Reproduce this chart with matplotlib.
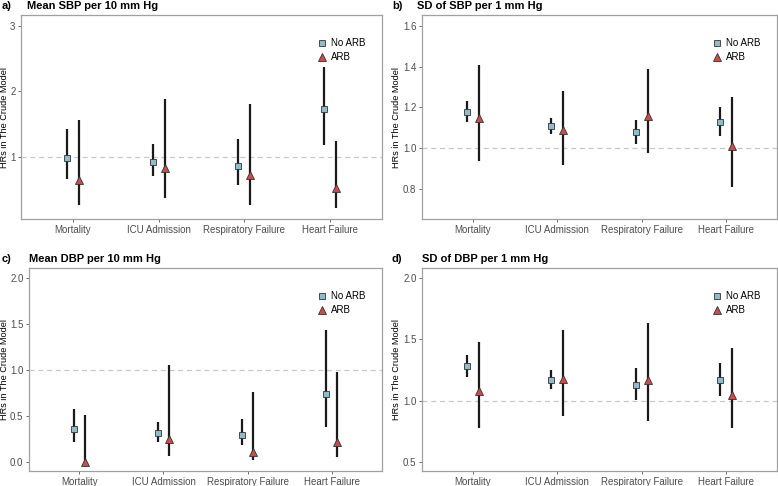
import numpy as np
import matplotlib.pyplot as plt

plt.rcParams['font.family'] = ['Liberation Sans', 'DejaVu Sans']

categories = ['Mortality', 'ICU Admission', 'Respiratory Failure', 'Heart Failure']

# a) Mean SBP per 10 mm Hg
a_no_hr = [0.98, 0.92, 0.86, 1.73]
a_no_lo = [0.67, 0.71, 0.58, 1.19]
a_no_hi = [1.43, 1.20, 1.27, 2.37]
a_arb_hr = [0.66, 0.84, 0.73, 0.53]
a_arb_lo = [0.27, 0.38, 0.28, 0.23]
a_arb_hi = [1.56, 1.89, 1.81, 1.24]

# b) SD of SBP per 1 mm Hg
b_no_hr = [1.18, 1.11, 1.08, 1.13]
b_no_lo = [1.13, 1.07, 1.02, 1.06]
b_no_hi = [1.23, 1.15, 1.14, 1.20]
b_arb_hr = [1.15, 1.09, 1.16, 1.01]
b_arb_lo = [0.94, 0.92, 0.98, 0.81]
b_arb_hi = [1.41, 1.28, 1.39, 1.25]

# c) Mean DBP per 10 mm Hg
c_no_hr = [0.36, 0.31, 0.29, 0.74]
c_no_lo = [0.22, 0.22, 0.18, 0.38]
c_no_hi = [0.57, 0.43, 0.47, 1.44]
c_arb_hr = [0.00, 0.25, 0.11, 0.22]
c_arb_lo = [0.00, 0.06, 0.02, 0.05]
c_arb_hi = [0.51, 1.05, 0.76, 0.98]

# d) SD of DBP per 1 mm Hg
d_no_hr = [1.28, 1.17, 1.13, 1.17]
d_no_lo = [1.19, 1.10, 1.01, 1.04]
d_no_hi = [1.37, 1.25, 1.27, 1.31]
d_arb_hr = [1.08, 1.18, 1.17, 1.05]
d_arb_lo = [0.78, 0.88, 0.84, 0.78]
d_arb_hi = [1.48, 1.58, 1.63, 1.43]

panels = [
    ('a)', 'Mean SBP per 10 mm Hg', a_no_hr, a_no_lo, a_no_hi, a_arb_hr, a_arb_lo, a_arb_hi,
     [1, 2, 3], ['1', '2', '3'], (0.06, 3.16)),
    ('b)', 'SD of SBP per 1 mm Hg', b_no_hr, b_no_lo, b_no_hi, b_arb_hr, b_arb_lo, b_arb_hi,
     [0.8, 1.0, 1.2, 1.4, 1.6], ['0.8', '1.0', '1.2', '1.4', '1.6'], (0.655, 1.652)),
    ('c)', 'Mean DBP per 10 mm Hg', c_no_hr, c_no_lo, c_no_hi, c_arb_hr, c_arb_lo, c_arb_hi,
     [0, 0.5, 1.0, 1.5, 2.0], ['0.0', '0.5', '1.0', '1.5', '2.0'], (-0.10, 2.11)),
    ('d)', 'SD of DBP per 1 mm Hg', d_no_hr, d_no_lo, d_no_hi, d_arb_hr, d_arb_lo, d_arb_hi,
     [0.5, 1.0, 1.5, 2.0], ['0.5', '1.0', '1.5', '2.0'], (0.43, 2.08)),
]

# axes rectangles in pixels: left, top, right, bottom
W, H = 778, 486
rects = [(21, 15, 382, 219), (422, 15, 777, 219), (29, 268, 382, 471), (422, 268, 777, 471)]
tag_x = [2, 392, 2, 392]
title_x = [27, 417, 29, 422]
ylab_x = [9, 401, 9, 401]

blue = '#8fbccd'
red = '#d04a4a'
grey = '#4d4d4d'

fig = plt.figure(figsize=(W / 100, H / 100), dpi=100)
x = np.arange(len(categories))
dodge = 0.07

for i, p in enumerate(panels):
    tag, title, nh, nl, nu, ah, al, au, ticks, tlabels, ylim = p
    l, t, r, b = rects[i]
    ax = fig.add_axes([l / W, 1 - b / H, (r - l) / W, (b - t) / H])
    ax.axhline(1, color='#c8c8c8', lw=0.9, ls=(0, (4, 3)), zorder=1)
    ax.vlines(x - dodge, nl, nu, color='#1a1a1a', lw=1.6, zorder=2)
    ax.vlines(x + dodge, al, au, color='#1a1a1a', lw=1.6, zorder=2)
    ax.plot(x - dodge, nh, ls='none', marker='s', ms=4.4, mfc=blue, mec='#333333', mew=0.6,
            zorder=3, label='No ARB')
    ax.plot(x + dodge, ah, ls='none', marker='^', ms=6, mfc=red, mec='#333333', mew=0.6,
            zorder=3, label='ARB')
    ax.set_xlim(-0.6, 3.6)
    ax.set_ylim(*ylim)
    ax.set_xticks(x)
    ax.set_xticklabels(categories, fontsize=7, color=grey)
    ax.set_yticks(ticks)
    ax.set_yticklabels(tlabels, fontsize=7, color=grey)
    ax.tick_params(length=2.2, width=0.6, color='#555555', pad=1.8)
    for s in ax.spines.values():
        s.set_color('#a0a0a0')
        s.set_linewidth(0.9)
    ax.set_ylabel('HRs in The Crude Model', fontsize=6.6)
    ax.yaxis.set_label_coords((ylab_x[i] - l) / (r - l), 0.5)
    ax.legend(loc='upper right', bbox_to_anchor=(0.978, 0.93), frameon=False, fontsize=7,
              handletextpad=0.3, labelspacing=0.45, borderaxespad=0.5, handlelength=1.2)
    ty = 1 - (t - 9) / H
    fig.text(tag_x[i] / W, ty, tag, fontsize=8, fontweight='bold', va='center')
    fig.text(title_x[i] / W, ty, title, fontsize=8, fontweight='bold', va='center')

fig.savefig('out.png', dpi=100)
